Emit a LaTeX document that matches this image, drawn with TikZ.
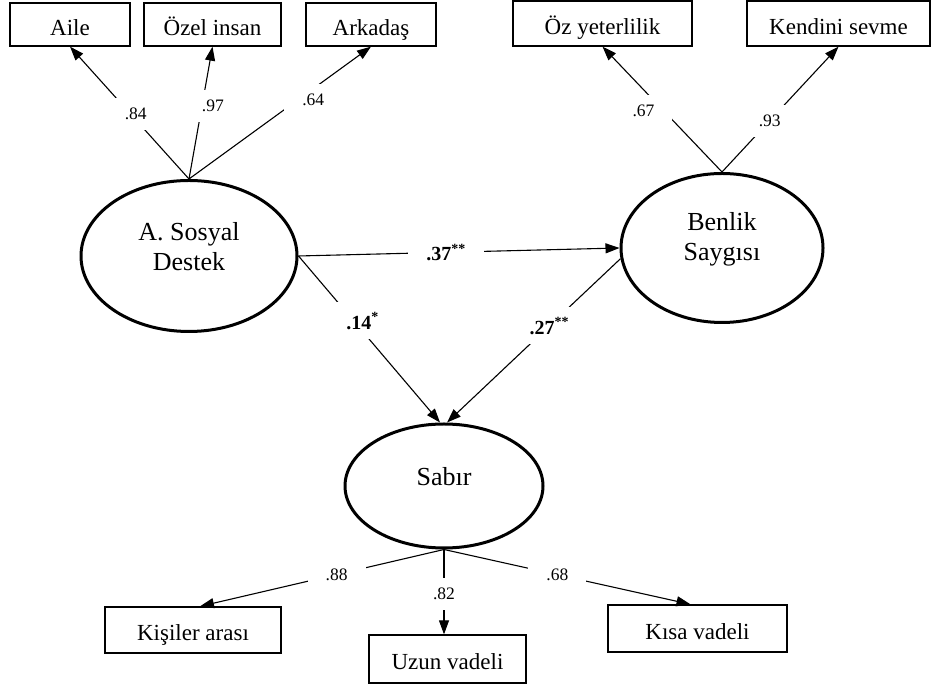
\documentclass[tikz,border=0pt]{standalone}
\usepackage{fontspec}
\setmainfont{Liberation Serif}
\usetikzlibrary{shapes.geometric, positioning, arrows.meta}

\begin{document}
\begin{tikzpicture}[
        x=1pt, y=1pt,
        >={Triangle[length=14pt,width=10pt]},
        on grid,
        latent/.style={draw, ellipse, line width=3pt, inner sep=0pt},
        lattext/.style={font=\fontsize{26}{30}\selectfont, align=center, yshift=9pt},
        indicator/.style={draw, rectangle, line width=1.3pt, minimum height=43pt, text height=26pt, text depth=4pt, font=\fontsize{23}{27}\selectfont},
        coef/.style={fill=white, inner xsep=18pt, inner ysep=10pt, font=\fontsize{17.5}{20}\selectfont},
        path coef/.style={coef, font=\bfseries\fontsize{20}{22}\selectfont},
        every edge/.style={draw, line width=1.1pt}
    ]
\useasboundingbox (0,0) rectangle (931,687);
        % latent variables
        \node[latent, minimum width=216pt, minimum height=151pt, label={[lattext]center:{A. Sosyal\\Destek}}] (asd) at (189,431) {};
        \node[latent, minimum width=202pt, minimum height=149pt, label={[lattext]center:{Benlik\\Saygısı}}] (benlik) at (722,439) {};
        \node[latent, minimum width=198pt, minimum height=124pt, label={[lattext]center:{Sabır}}] (sabir) at (444,201) {};
        % indicators
\node[indicator, minimum width=120pt, above left=231.5pt and 119pt of asd] (aile) {Aile};
        \node[indicator, minimum width=137pt, above right=231.5pt and 23.5pt of asd] (ozel) {Özel insan};
        \node[indicator, minimum width=130pt, above right=231.5pt and 182pt of asd] (arkadas) {Arkadaş};
        \node[indicator, minimum width=179pt, minimum height=45pt, above left=224.5pt and 119.5pt of benlik] (ozyet) {Öz yeterlilik};
\node[indicator, minimum width=183pt, minimum height=45pt, above right=224.5pt and 116.5pt of benlik] (kendini) {Kendini sevme};
        \node[indicator, minimum width=176pt, minimum height=46pt, below left=144pt and 251pt of sabir] (kisiler) {Kişiler arası};
        \node[indicator, minimum width=157pt, minimum height=48pt, below right=173pt and 3.5pt of sabir] (uzun) {Uzun vadeli};
        \node[indicator, minimum width=179pt, minimum height=47pt, below right=142.5pt and 253.5pt of sabir] (kisa) {Kısa vadeli};
\path[->]
        (asd.north) edge node[coef, pos=.49, xshift=5pt] {.84} (aile.south)
        (asd.north) edge node[coef, pos=.55, xshift=11pt] {.97} (ozel.south)
        (asd.north) edge node[coef, pos=.6, xshift=15pt] {.64} (arkadas.south)
        (benlik.north) edge node[coef, pos=.49, xshift=-20pt] {.67} (ozyet.south)
        (benlik.north) edge node[coef, pos=.41] {.93} (kendini.south)
        (asd.east) edge node[path coef, pos=.46] {.37\textsuperscript{**}} (benlik.west)
        (asd.east) edge node[path coef, pos=.39, xshift=9pt] {.14\textsuperscript{*}} ([xshift=-4pt]sabir.north)
        (benlik.186) edge node[path coef, pos=.41] {.27\textsuperscript{**}} ([xshift=3pt]sabir.north)
        (sabir.south) edge node[coef, pos=.44] {.88} ([xshift=7pt]kisiler.north)
        (sabir.south) edge node[coef, pos=.52] {.82} ([xshift=-3.5pt]uzun.north)
        (sabir.south) edge node[coef, pos=.46] {.68} ([xshift=-7pt]kisa.north);
\end{tikzpicture}
\end{document}
